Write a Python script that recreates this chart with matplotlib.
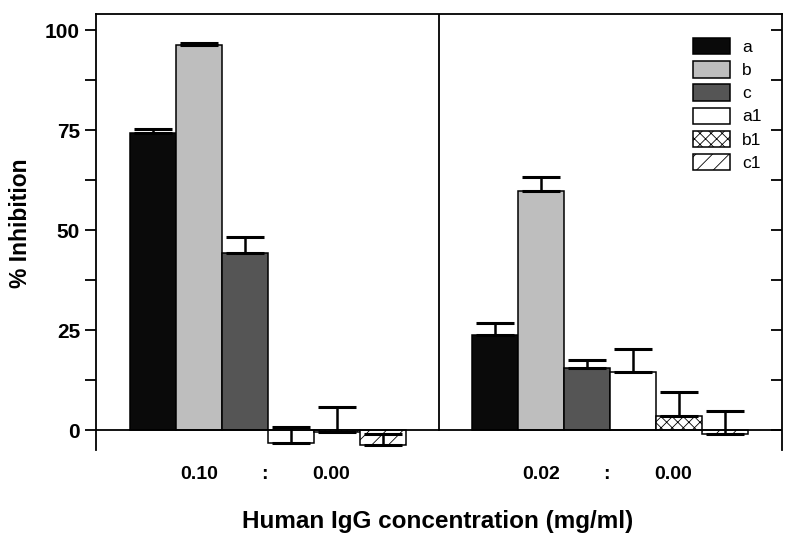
import matplotlib.pyplot as plt
import numpy as np

plt.rcParams['font.family'] = ['Liberation Sans', 'DejaVu Sans']
plt.rcParams['hatch.linewidth'] = 0.6

# series names and their look
series = ['a', 'b', 'c', 'a1', 'b1', 'c1']
colors = ['#0a0a0a', '#bebebe', '#555555', 'white', 'white', 'white']
hatches = [None, None, None, None, 'xxx', '//']

# % inhibition, two concentration groups (0.10 : 0.00 and 0.02 : 0.00)
group1 = [74.2, 96.3, 44.3, -3.2, -0.6, -3.8]
group1_err = [1.0, 0.5, 4.0, 4.0, 6.3, 2.9]
group2 = [23.7, 59.8, 15.5, 14.5, 3.5, -0.9]
group2_err = [3.0, 3.5, 2.0, 5.7, 6.0, 5.6]

group_labels = [['0.10', ':', '0.00'], ['0.02', ':', '0.00']]
label_offsets = [1.0, 2.43, 3.87]
group_shift = 7.43

fig = plt.figure(figsize=(7.97, 5.45), dpi=100)
ax = fig.add_axes([0.1205, 0.1743, 0.8605, 0.8])

x = np.arange(len(series))
for g, (vals, errs) in enumerate([(group1, group1_err), (group2, group2_err)]):
    xs = x + g * group_shift
    for i in range(len(series)):
        ax.bar(xs[i], vals[i], width=1.0, color=colors[i], edgecolor='black',
               linewidth=1.1, hatch=hatches[i], label=series[i] if g == 0 else None,
               zorder=2)
        ax.errorbar(xs[i], vals[i], yerr=[[0], [errs[i]]], fmt='none',
                    ecolor='black', elinewidth=1.8, capsize=14, capthick=2.2,
                    zorder=3)
    for off, txt in zip(label_offsets, group_labels[g]):
        ax.text(off + g * group_shift, -11.2, txt, ha='center', va='center',
                fontsize=14, fontweight='bold')

ax.set_xlim(-1.24, 13.67)
ax.set_ylim(-5, 104)
ax.axhline(0, color='black', linewidth=1.3, zorder=4)
ax.axvline(6.22, ymin=5 / 109, ymax=1, color='black', linewidth=1.3)

ax.spines['bottom'].set_visible(False)
for s in ['left', 'right', 'top']:
    ax.spines[s].set_linewidth(1.3)
ax.set_xticks([])
ax.set_yticks([0, 25, 50, 75, 100])
ax.set_yticks(np.arange(12.5, 100, 25), minor=True)
ax.tick_params(axis='y', which='both', direction='out', length=8, width=1.3,
               labelsize=15)
for lab in ax.get_yticklabels():
    lab.set_fontweight('bold')

ax2 = ax.twinx()
ax2.set_ylim(ax.get_ylim())
ax2.set_yticks(np.arange(0, 101, 12.5))
ax2.tick_params(axis='y', direction='in', length=8, width=1.3, labelright=False)
for s in ax2.spines.values():
    s.set_visible(False)

ax.set_ylabel('% Inhibition', fontsize=16.5, fontweight='bold')
ax.yaxis.set_label_coords(-0.093, 0.52)
fig.text(0.549, 0.044, 'Human IgG concentration (mg/ml)', ha='center',
         va='center', fontsize=17.5, fontweight='bold')

ax.legend(loc='upper right', bbox_to_anchor=(0.993, 0.98), frameon=False,
          fontsize=12.5, handlelength=2.1, handleheight=1.05,
          labelspacing=0.35, handletextpad=0.7)

fig.savefig('out.png', dpi=100)
